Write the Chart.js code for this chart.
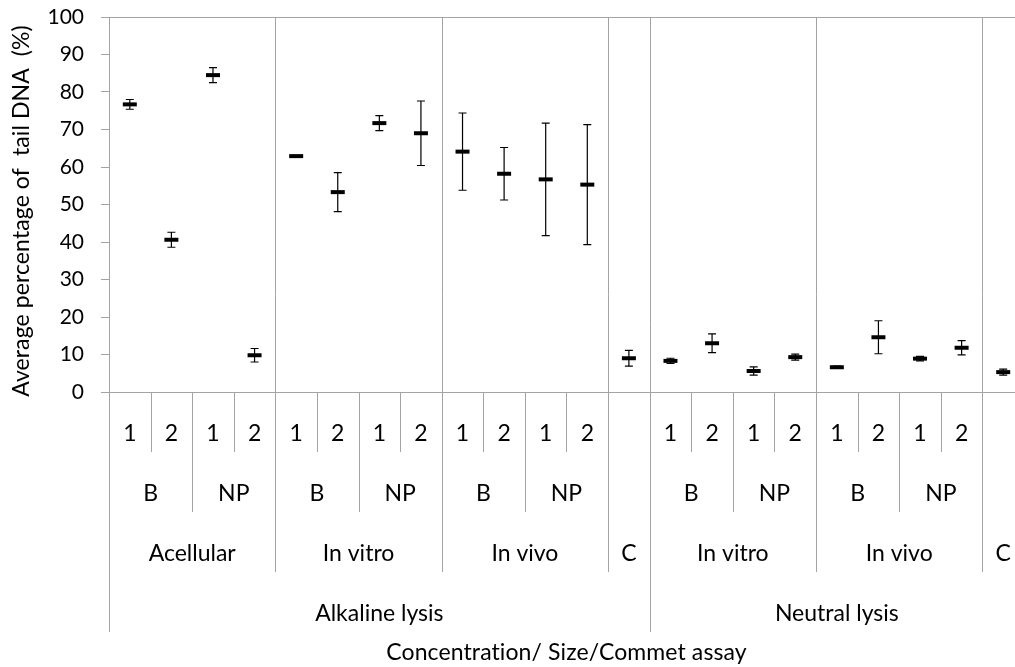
<!doctype html>
<html>
<head>
  <meta charset="utf-8" />
  <title>Average percentage of tail DNA</title>
  <style>
    html, body { margin:0; padding:0; background:#fff; overflow:hidden; }
    #wrap { width:1015px; height:667px; overflow:hidden; }
  </style>
  <script src="https://cdn.jsdelivr.net/npm/chart.js"></script>
</head>
<body>
<div id="wrap"><canvas id="chart" width="1035" height="667"></canvas></div>
<script>
// category levels, innermost first
const concLabels  = ['1','2','1','2', '1','2','1','2', '1','2','1','2', '', '1','2','1','2', '1','2','1','2', ''];
const sizeLabels  = ['B','B','NP','NP', 'B','B','NP','NP', 'B','B','NP','NP', '', 'B','B','NP','NP', 'B','B','NP','NP', ''];
const assayLabels = ['Acellular','Acellular','Acellular','Acellular', 'In vitro','In vitro','In vitro','In vitro',
                     'In vivo','In vivo','In vivo','In vivo', 'C',
                     'In vitro','In vitro','In vitro','In vitro', 'In vivo','In vivo','In vivo','In vivo', 'C'];
const lysisLabels = ['Alkaline lysis','Alkaline lysis','Alkaline lysis','Alkaline lysis','Alkaline lysis','Alkaline lysis',
                     'Alkaline lysis','Alkaline lysis','Alkaline lysis','Alkaline lysis','Alkaline lysis','Alkaline lysis','Alkaline lysis',
                     'Neutral lysis','Neutral lysis','Neutral lysis','Neutral lysis','Neutral lysis','Neutral lysis','Neutral lysis','Neutral lysis','Neutral lysis'];

// mean % tail DNA and error (+/-)
const meanTail = [76.7, 40.6, 84.5, 9.8,  62.9, 53.3, 71.7, 69.0,  64.1, 58.2, 56.7, 55.3,  9.0,
                  8.3, 13.0, 5.6, 9.3,  6.6, 14.6, 8.9, 11.8,  5.3];
const errTail  = [1.3, 2.0, 2.0, 1.8,  0, 5.2, 2.0, 8.6,  10.3, 7.0, 15.0, 16.0,  2.1,
                  0.7, 2.5, 1.1, 0.8,  0.3, 4.4, 0.6, 1.9,  0.8];

const yTicks = [0,10,20,30,40,50,60,70,80,90,100];
const xTitle = 'Concentration/ Size/Commet assay';
const yTitle = 'Average percentage of  tail DNA  (%)';

const GRAY = '#a3a3a3';
const FONT = 'Lato, "Liberation Sans", sans-serif';
const levels = [concLabels, sizeLabels, assayLabels, lysisLabels];
const catNames = concLabels.map((c,i) => [lysisLabels[i], assayLabels[i], sizeLabels[i], c].join(' '));

// key of a category at a level = its label at that level and all outer ones
function keyAt(i, lvl) {
  let k = '';
  for (let l = lvl; l < levels.length; l++) k += levels[l][i] + '|';
  return k;
}

const errorBars = {
  id: 'errorBars',
  beforeDatasetsDraw(chart) {
    const {ctx, scales:{x, y}} = chart;
    ctx.save();
    ctx.strokeStyle = '#000';
    ctx.lineWidth = 1.2;
    meanTail.forEach((m, i) => {
      const e = errTail[i];
      if (!e) return;
      const px = x.getPixelForValue(i);
      const top = y.getPixelForValue(m + e), bot = y.getPixelForValue(m - e);
      ctx.beginPath();
      ctx.moveTo(px, top); ctx.lineTo(px, bot);
      ctx.moveTo(px - 4, top); ctx.lineTo(px + 4, top);
      ctx.moveTo(px - 4, bot); ctx.lineTo(px + 4, bot);
      ctx.stroke();
    });
    ctx.restore();
  }
};

const multiAxis = {
  id: 'multiAxis',
  afterDraw(chart) {
    const {ctx, chartArea, scales:{x}} = chart;
    const n = concLabels.length;
    const w = x.getPixelForValue(1) - x.getPixelForValue(0);
    const edge = i => x.getPixelForValue(0) - w / 2 + i * w;
    const base = chartArea.bottom;
    const rowH = 60;
    ctx.save();
    ctx.strokeStyle = GRAY;
    ctx.lineWidth = 1;
    // separator lines
    for (let b = 0; b <= n; b++) {
      let lvl = -1;
      if (b === 0 || b === n) lvl = levels.length - 1;
      else for (let l = levels.length - 1; l >= 0; l--) {
        if (keyAt(b - 1, l) !== keyAt(b, l)) { lvl = l; break; }
      }
      if (lvl < 0) continue;
      const px = Math.round(edge(b)) + 0.5;
      ctx.beginPath();
      if (lvl >= 2 && b > 0) { ctx.moveTo(px, chartArea.top); } else { ctx.moveTo(px, base); }
      ctx.lineTo(px, base + rowH * (lvl + 1));
      ctx.stroke();
    }
    // labels
    ctx.fillStyle = '#000';
    ctx.font = '23px ' + FONT;
    ctx.textAlign = 'center';
    ctx.textBaseline = 'middle';
    levels.forEach((arr, l) => {
      let start = 0;
      for (let i = 1; i <= n; i++) {
        if (i === n || keyAt(i, l) !== keyAt(start, l)) {
          if (arr[start]) ctx.fillText(arr[start], (edge(start) + edge(i)) / 2, base + rowH * l + 42);
          start = i;
        }
      }
    });
    ctx.letterSpacing = '0.1px'; // stops the "ti" ligature
    ctx.fillText(xTitle, (edge(0) + edge(n)) / 2, base + rowH * 4 + 21);
    // y axis title
    ctx.translate(22, 211);
    ctx.rotate(-Math.PI / 2);
    ctx.fillText(yTitle, 0, 0);
    ctx.restore();
  }
};

new Chart(document.getElementById('chart'), {
  type: 'line',
  data: {
    labels: catNames,
    datasets: [{
      data: meanTail,
      showLine: false,
      borderColor: '#000',
      backgroundColor: '#000',
      pointStyle: 'line',
      pointRadius: 7,
      pointHoverRadius: 7,
      pointBorderWidth: 4,
      pointHoverBorderWidth: 4
    }]
  },
  options: {
    responsive: false,
    animation: false,
    events: [],
    layout: { padding: { left: 0, top: 17, right: 6, bottom: 275 } },
    plugins: { legend: { display: false }, tooltip: { enabled: false } },
    scales: {
      x: { type: 'category', offset: true, display: false },
      y: {
        min: 0, max: 100,
        afterFit(s) { s.width = 109; s.paddingTop = 0; s.paddingBottom = 0; },
        afterBuildTicks(s) { s.ticks = yTicks.map(v => ({ value: v })); },
        border: { display: true, color: GRAY, width: 1 },
        grid: {
          color: c => (c.tick && (c.tick.value === 0 || c.tick.value === 100)) ? GRAY : 'rgba(0,0,0,0)',
          tickColor: GRAY, tickLength: 8, lineWidth: 1
        },
        ticks: { color: '#000', font: { family: FONT, size: 21 }, padding: 17 }
      }
    }
  },
  plugins: [errorBars, multiAxis]
});
</script>
</body>
</html>
